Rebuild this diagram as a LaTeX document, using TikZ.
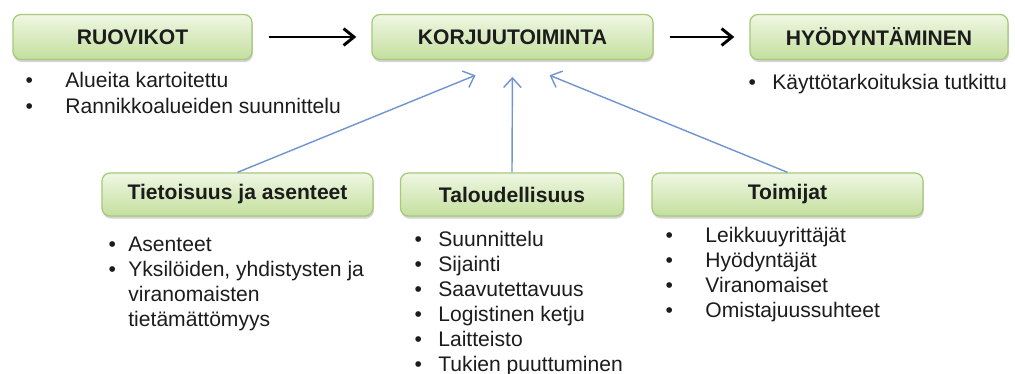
\documentclass[tikz,border=0pt]{standalone}
\usepackage{fontspec}
\setmainfont{Liberation Sans}
\usetikzlibrary{arrows.meta,shadows}

\definecolor{boxline}{HTML}{A6C97A}
\definecolor{boxtop}{HTML}{EFF7E3}
\definecolor{boxbottom}{HTML}{C4DF9E}
\definecolor{linkblue}{HTML}{7094CF}
\definecolor{inktext}{HTML}{1C1C1C}

\begin{document}
\begin{tikzpicture}[
    x=0.025cm, y=-0.025cm,
    every node/.style={font=\fontsize{15}{17.8}\selectfont, text=inktext},
    stage/.style={
        draw=boxline,
        line width=0.9pt,
        rounded corners=0.2cm,
        top color=boxtop,
        bottom color=boxbottom,
        minimum height=1.125cm,
        font=\fontsize{15}{17.8}\selectfont\bfseries,
        drop shadow={shadow xshift=0.6pt, shadow yshift=-1.8pt, opacity=0.35}
    },
    factor/.style={
        stage,
        minimum height=1.075cm
    },
    itemlist/.style={
        anchor=base west,
        inner sep=0pt,
        align=left
    },
    flow/.style={-{Straight Barb[length=2.6mm, width=4.2mm]}, line width=2.1pt,
        shorten <=0.4cm, shorten >=0.375cm},
    link/.style={-{Straight Barb[length=2.4mm, width=4.4mm]}, line width=1pt,
        draw=linkblue}
]

    \useasboundingbox (0,0) rectangle (1015,374);

    % Chain
    \node[stage, minimum width=5.975cm] (ruovikot) at (132.5,37) {RUOVIKOT};
    \node[stage, minimum width=7.025cm] (korjuu) at (512.5,37) {KORJUUTOIMINTA};
    \node[stage, minimum width=6.45cm] (hyodynt) at (879,37) {HYÖDYNTÄMINEN};

    \draw[flow] (ruovikot.east) -- (korjuu.west);
    \draw[flow] (korjuu.east) -- (hyodynt.west);

    % Lists under the chain
    \node[itemlist] (ruovlist) at (25.3,88) {%
        \begin{tabular}[t]{@{}l@{\hspace{0.81cm}}l@{}}
            \textbullet & Alueita kartoitettu\\
            \textbullet & Rannikkoalueiden suunnittelu
        \end{tabular}};
    \node[itemlist] (hyodlist) at (748.3,90) {%
        \begin{tabular}[t]{@{}l@{\hspace{0.41cm}}l@{}}
            \textbullet & Käyttötarkoituksia tutkittu
        \end{tabular}};

    % Factors
    \node[factor, minimum width=6.775cm] (tietoisuus) at (237.5,194.5) {Tietoisuus ja asenteet};
    \node[factor, minimum width=5.575cm] (talous) at (512,194.5) {Taloudellisuus};
    \node[factor, minimum width=6.775cm] (toimijat) at (787.5,194.5) {Toimijat};

    \draw[link, shorten >=1cm] (tietoisuus.north) -- (korjuu.south);
    \draw[link, shorten >=0.42cm] (talous.north) -- (korjuu.south);
    \draw[link, shorten >=1cm] (toimijat.north) -- (korjuu.south);

    % Lists under the factors
    \node[itemlist] (tietlist) at (108.3,251) {%
        \begin{tabular}[t]{@{}l@{\hspace{0.31cm}}l@{}}
            \textbullet & Asenteet\\
            \textbullet & Yksilöiden, yhdistysten ja\\
                        & viranomaisten\\
                        & tietämättömyys
        \end{tabular}};
    \node[itemlist] (talolist) at (414.3,246) {%
        \begin{tabular}[t]{@{}l@{\hspace{0.41cm}}l@{}}
            \textbullet & Suunnittelu\\
            \textbullet & Sijainti\\
            \textbullet & Saavutettavuus\\
            \textbullet & Logistinen ketju\\
            \textbullet & Laitteisto\\
            \textbullet & Tukien puuttuminen
        \end{tabular}};
    \node[itemlist] (toimlist) at (665.3,242) {%
        \begin{tabular}[t]{@{}l@{\hspace{0.81cm}}l@{}}
            \textbullet & Leikkuuyrittäjät\\
            \textbullet & Hyödyntäjät\\
            \textbullet & Viranomaiset\\
            \textbullet & Omistajuussuhteet
        \end{tabular}};

\end{tikzpicture}
\end{document}
